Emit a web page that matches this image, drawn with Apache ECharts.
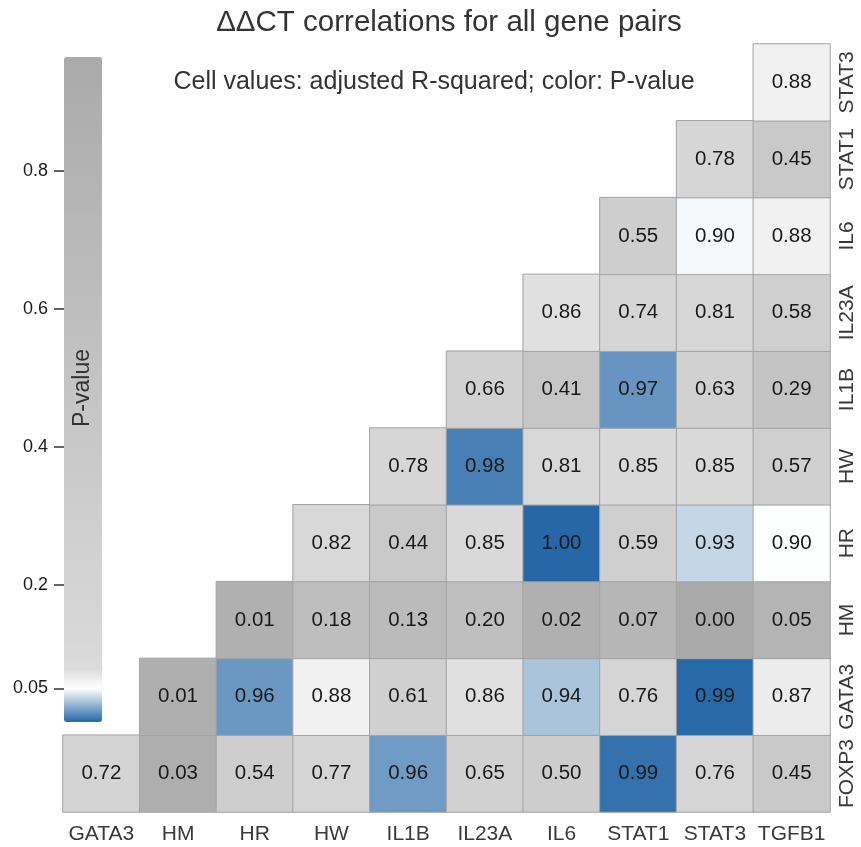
<!DOCTYPE html>
<html>
<head>
<meta charset="utf-8">
<title>ΔΔCT correlations</title>
<script src="https://cdn.jsdelivr.net/npm/echarts@6/dist/echarts.min.js"></script>
<style>
  html, body { margin: 0; padding: 0; background: #ffffff; }
  #chart { width: 861px; height: 847px; }
</style>
</head>
<body>
<div id="chart"></div>
<script>
// Gene names along each axis
const xGenes = ['GATA3', 'HM', 'HR', 'HW', 'IL1B', 'IL23A', 'IL6', 'STAT1', 'STAT3', 'TGFB1'];
const yGenes = ['FOXP3', 'GATA3', 'HM', 'HR', 'HW', 'IL1B', 'IL23A', 'IL6', 'STAT1', 'STAT3'];

// Adjusted R-squared per row (row gene vs column gene); null = no cell
const rsqFOXP3 = [0.72, 0.03, 0.54, 0.77, 0.96, 0.65, 0.50, 0.99, 0.76, 0.45];
const rsqGATA3 = [null, 0.01, 0.96, 0.88, 0.61, 0.86, 0.94, 0.76, 0.99, 0.87];
const rsqHM    = [null, null, 0.01, 0.18, 0.13, 0.20, 0.02, 0.07, 0.00, 0.05];
const rsqHR    = [null, null, null, 0.82, 0.44, 0.85, 1.00, 0.59, 0.93, 0.90];
const rsqHW    = [null, null, null, null, 0.78, 0.98, 0.81, 0.85, 0.85, 0.57];
const rsqIL1B  = [null, null, null, null, null, 0.66, 0.41, 0.97, 0.63, 0.29];
const rsqIL23A = [null, null, null, null, null, null, 0.86, 0.74, 0.81, 0.58];
const rsqIL6   = [null, null, null, null, null, null, null, 0.55, 0.90, 0.88];
const rsqSTAT1 = [null, null, null, null, null, null, null, null, 0.78, 0.45];
const rsqSTAT3 = [null, null, null, null, null, null, null, null, null, 0.88];

// P-values per row, same layout
const pFOXP3 = [0.19, 0.89, 0.30, 0.17, 0.018, 0.25, 0.32, 0.005, 0.17, 0.39];
const pGATA3 = [null, 0.87, 0.017, 0.062, 0.26, 0.075, 0.031, 0.17, 0.002, 0.066];
const pHM    = [null, null, 0.86, 0.60, 0.66, 0.57, 0.86, 0.75, 0.965, 0.78];
const pHR    = [null, null, null, 0.12, 0.40, 0.09, 0.0014, 0.28, 0.037, 0.050];
const pHW    = [null, null, null, null, 0.15, 0.009, 0.12, 0.095, 0.095, 0.29];
const pIL1B  = [null, null, null, null, null, 0.25, 0.44, 0.016, 0.25, 0.49];
const pIL23A = [null, null, null, null, null, null, 0.075, 0.18, 0.13, 0.28];
const pIL6   = [null, null, null, null, null, null, null, 0.30, 0.048, 0.062];
const pSTAT1 = [null, null, null, null, null, null, null, null, 0.15, 0.39];
const pSTAT3 = [null, null, null, null, null, null, null, null, null, 0.062];

const rsqRows = [rsqFOXP3, rsqGATA3, rsqHM, rsqHR, rsqHW, rsqIL1B, rsqIL23A, rsqIL6, rsqSTAT1, rsqSTAT3];
const pRows   = [pFOXP3, pGATA3, pHM, pHR, pHW, pIL1B, pIL23A, pIL6, pSTAT1, pSTAT3];

// Colour bar range and tick values
const pMin = 0.0014;
const pMax = 0.965;
const pTicks = [0.05, 0.2, 0.4, 0.6, 0.8];

// Build heatmap cells: [xIndex, yIndex, pValue, rsq]
const cells = [];
rsqRows.forEach(function (row, j) {
  row.forEach(function (r, i) {
    if (r !== null) cells.push([i, j, pRows[j][i], r]);
  });
});

// Blue below 0.05, white at 0.05, then light to dark gray
function mix(a, b, t) {
  return [0, 1, 2].map(function (k) { return Math.round(a[k] + (b[k] - a[k]) * t); });
}
function colourFor(p) {
  const blue = [31, 99, 164], white = [255, 255, 255];
  const lightGray = [218, 218, 218], darkGray = [170, 170, 170];
  let c;
  if (p <= 0.05) c = mix(blue, white, Math.max(0, p) / 0.05);
  else if (p <= 0.08) c = mix(white, lightGray, (p - 0.05) / 0.03);
  else c = mix(lightGray, darkGray, Math.min(1, (p - 0.08) / (pMax - 0.08)));
  return 'rgb(' + c.join(',') + ')';
}
const stops = [];
const N = 400;
for (let k = 0; k <= N; k++) stops.push(colourFor(pMin + (pMax - pMin) * k / N));

const FONT = '"Liberation Sans", Arial, Helvetica, sans-serif';

const chart = echarts.init(document.getElementById('chart'), null, { renderer: 'canvas' });
chart.setOption({
  animation: false,
  backgroundColor: '#ffffff',
  textStyle: { fontFamily: FONT },
  graphic: [
    {
      type: 'text', x: 449, y: 23,
      style: { text: 'ΔΔCT correlations for all gene pairs', fontSize: 29.5, fontFamily: FONT,
               fill: '#333333', textAlign: 'center', textVerticalAlign: 'middle' }
    },
    {
      type: 'text', x: 434, y: 82,
      style: { text: 'Cell values: adjusted R-squared; color: P-value', fontSize: 25, fontFamily: FONT,
               fill: '#333333', textAlign: 'center', textVerticalAlign: 'middle' }
    },
    {
      type: 'text', x: 83, y: 388, rotation: Math.PI / 2, z: 100,
      style: { text: 'P-value', fontSize: 23, fontFamily: FONT, fill: '#333333',
               textAlign: 'center', textVerticalAlign: 'middle' }
    }
  ],
  grid: [
    { left: 63, top: 44, width: 767, height: 768 },
    { left: 64, top: 57, width: 38, height: 665 }
  ],
  xAxis: [
    {
      type: 'category', data: xGenes, gridIndex: 0,
      axisLine: { show: false }, axisTick: { show: false }, splitLine: { show: false },
      axisLabel: { interval: 0, fontSize: 21, color: '#3a3a3a', margin: 12 }
    },
    { type: 'value', gridIndex: 1, show: false }
  ],
  yAxis: [
    {
      type: 'category', data: yGenes, gridIndex: 0, position: 'right',
      axisLine: { show: false }, axisTick: { show: false }, splitLine: { show: false },
      axisLabel: { interval: 0, fontSize: 21, color: '#3a3a3a', rotate: 90, margin: 7 }
    },
    {
      type: 'value', gridIndex: 1, min: pMin, max: pMax, position: 'left',
      axisLine: { show: false }, splitLine: { show: false },
      axisTick: { show: true, customValues: pTicks, length: 10, lineStyle: { color: '#333333', width: 1.5 } },
      axisLabel: { show: true, customValues: pTicks, margin: 16, fontSize: 18, color: '#1a1a1a' }
    }
  ],
  visualMap: {
    type: 'continuous', min: pMin, max: pMax, dimension: 2, seriesIndex: 0,
    orient: 'vertical', left: 64, top: 57, itemWidth: 38, itemHeight: 665, padding: 0,
    calculable: false, hoverLink: false, text: null,
    inRange: { color: stops }
  },
  series: [{
    type: 'heatmap', xAxisIndex: 0, yAxisIndex: 0, data: cells,
    itemStyle: { borderColor: '#a3a3a3', borderWidth: 1 },
    label: {
      show: true, fontSize: 20.5, color: '#1a1a1a', fontFamily: FONT,
      formatter: function (p) { return p.value[3].toFixed(2); }
    },
    emphasis: { disabled: true }
  }]
});
</script>
</body>
</html>
